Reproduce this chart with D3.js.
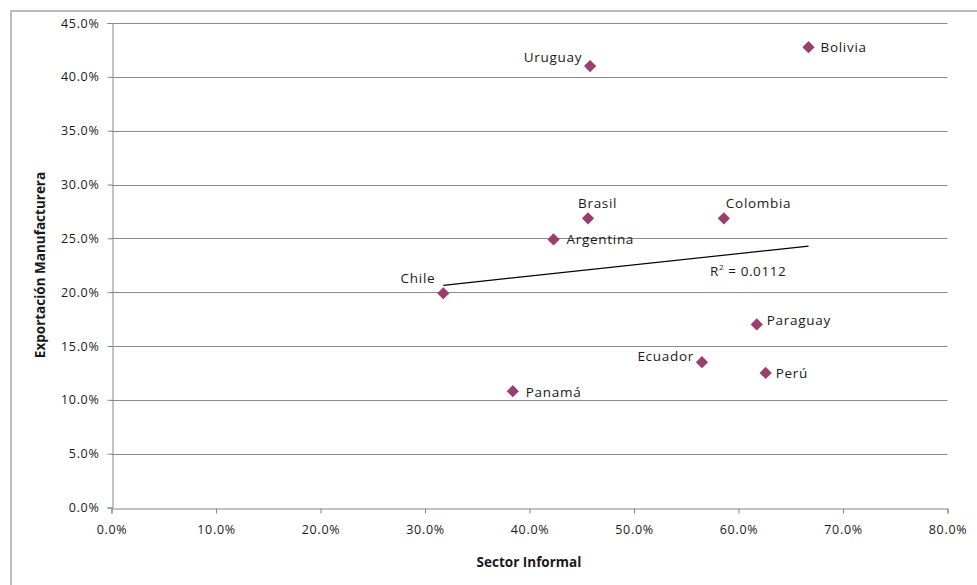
<!DOCTYPE html>
<html>
<head>
<meta charset="utf-8">
<script src="https://cdn.jsdelivr.net/npm/d3@7"></script>
<style>
  html, body { margin: 0; padding: 0; background: #fff; }
  svg { display: block; }
  text { font-family: "Open Sans", "Liberation Sans", sans-serif; fill: #1a1a1a; }
</style>
</head>
<body>
<svg id="chart" width="977" height="585"></svg>
<script>
// Países y sus valores (fracciones: 0.45 = 45%)
const paises = ["Uruguay", "Bolivia", "Brasil", "Colombia", "Argentina", "Chile", "Ecuador", "Perú", "Panamá", "Paraguay"];
const sectorInformal = [0.458, 0.667, 0.456, 0.586, 0.423, 0.3175, 0.565, 0.626, 0.384, 0.6175];
const exportacionManufacturera = [0.410, 0.4275, 0.2686, 0.2686, 0.249, 0.199, 0.135, 0.125, 0.108, 0.170];

// Línea de tendencia lineal y su R²
const tendenciaPendiente = 0.1044;
const tendenciaIntercepto = 0.17315;
const tendenciaR2 = "0.0112";

// Marcas de los ejes
const xTicks = [0, 0.1, 0.2, 0.3, 0.4, 0.5, 0.6, 0.7, 0.8];
const yTicks = [0, 0.05, 0.1, 0.15, 0.2, 0.25, 0.3, 0.35, 0.4, 0.45];

const svg = d3.select("#chart");
const fmt = d3.format(".1%");

const x = d3.scaleLinear().domain([0, 0.8]).range([111.5, 947.5]);
const y = d3.scaleLinear().domain([0, 0.45]).range([507.5, 23]);

// Marco exterior del gráfico
svg.append("rect")
  .attr("x", 11).attr("y", 11).attr("width", 980).attr("height", 600)
  .attr("fill", "#fff").attr("stroke", "#a6a6a6").attr("stroke-width", 1.5);

// Líneas de cuadrícula horizontales
svg.append("g")
  .selectAll("line")
  .data(yTicks.filter(d => d > 0))
  .join("line")
  .attr("x1", x(0)).attr("x2", x(0.8))
  .attr("y1", d => Math.round(y(d)) + 0.5).attr("y2", d => Math.round(y(d)) + 0.5)
  .attr("stroke", "#8c8c8c").attr("stroke-width", 1);

// Eje X
const gx = svg.append("g")
  .attr("transform", `translate(0,${Math.round(y(0)) + 0.5})`)
  .call(d3.axisBottom(x).tickValues(xTicks).tickFormat(fmt).tickSize(5).tickPadding(12));

// Eje Y
const gy = svg.append("g")
  .attr("transform", `translate(${Math.round(x(0)) + 0.5},0)`)
  .call(d3.axisLeft(y).tickValues(yTicks).tickFormat(fmt).tickSize(5).tickPadding(8));

[gx, gy].forEach(g => {
  g.select(".domain").attr("stroke", "#868686");
  g.selectAll(".tick line").attr("stroke", "#868686");
  g.selectAll(".tick text")
    .attr("fill", "#1a1a1a")
    .style("font-family", '"Open Sans", sans-serif')
    .style("font-size", "12.5px")
    .style("letter-spacing", "0.7px");
});

// Línea de tendencia entre el mínimo y el máximo de X
const xExt = d3.extent(sectorInformal);
svg.append("line")
  .attr("x1", x(xExt[0])).attr("y1", y(tendenciaIntercepto + tendenciaPendiente * xExt[0]))
  .attr("x2", x(xExt[1])).attr("y2", y(tendenciaIntercepto + tendenciaPendiente * xExt[1]))
  .attr("stroke", "#000").attr("stroke-width", 1.2);

// Etiqueta R²
const r2 = svg.append("text")
  .attr("x", 710).attr("y", 276)
  .style("font-size", "13.5px").style("letter-spacing", "0.6px");
r2.append("tspan").text("R");
r2.append("tspan").attr("dy", -6).style("font-size", "8px").text("2");
r2.append("tspan").attr("dy", 6).text(" = " + tendenciaR2);

// Puntos (rombos)
const datos = paises.map((p, i) => ({ pais: p, x: sectorInformal[i], y: exportacionManufacturera[i] }));
const rombo = d3.symbol().type(d3.symbolDiamond2).size(95);

svg.append("g")
  .selectAll("path")
  .data(datos)
  .join("path")
  .attr("d", rombo)
  .attr("transform", d => `translate(${x(d.x)},${y(d.y)})`)
  .attr("fill", "#9b3d70");

// Posición de cada etiqueta respecto a su punto
const ubicacion = {
  "Uruguay":  { dx: -8,  dy: -4,  anchor: "end" },
  "Bolivia":  { dx: 12,  dy: 5,   anchor: "start" },
  "Brasil":   { dx: -10, dy: -10, anchor: "start" },
  "Colombia": { dx: 2,   dy: -10, anchor: "start" },
  "Argentina":{ dx: 13,  dy: 5,   anchor: "start" },
  "Chile":    { dx: -8,  dy: -10, anchor: "end" },
  "Ecuador":  { dx: -8,  dy: -1,  anchor: "end" },
  "Perú":     { dx: 10,  dy: 5,   anchor: "start" },
  "Panamá":   { dx: 13,  dy: 5.5, anchor: "start" },
  "Paraguay": { dx: 10,  dy: 1,   anchor: "start" }
};

svg.append("g")
  .selectAll("text")
  .data(datos)
  .join("text")
  .attr("x", d => x(d.x) + ubicacion[d.pais].dx)
  .attr("y", d => y(d.y) + ubicacion[d.pais].dy)
  .attr("text-anchor", d => ubicacion[d.pais].anchor)
  .style("font-size", "13.5px")
  .style("letter-spacing", "0.7px")
  .text(d => d.pais);

// Títulos de los ejes
svg.append("text")
  .attr("x", 529).attr("y", 567)
  .attr("text-anchor", "middle")
  .style("font-size", "13.5px").style("font-weight", "bold")
  .text("Sector Informal");

svg.append("text")
  .attr("transform", "translate(45,265) rotate(-90)")
  .attr("text-anchor", "middle")
  .style("font-size", "13.5px").style("font-weight", "bold")
  .text("Exportación Manufacturera");
</script>
</body>
</html>
